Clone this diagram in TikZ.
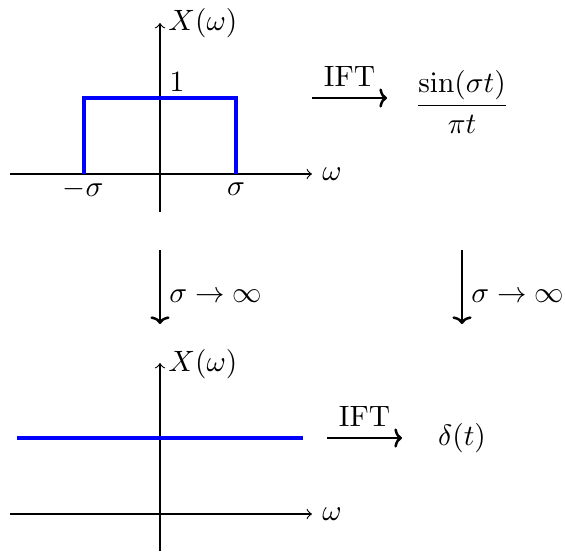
\documentclass[tikz,border=0pt]{standalone}
\usepackage{amsmath}
\usetikzlibrary{arrows.meta}
\begin{document}
\begin{tikzpicture}[x=0.34pt,y=-0.34pt,
  axis/.style={-to},
  sig/.style={blue,line width=1.25pt},
  maparrow/.style={-{Computer Modern Rightarrow[width=6.5pt,length=2.6pt]},line width=0.85pt},
  lbl/.style={inner sep=0pt}]
\useasboundingbox (0,0) rectangle (565,551);
% ---- top plot ----
\coordinate (tyb) at (160,212);
\coordinate (tyt) at (160,23);
\coordinate (txl) at (10,174);
\coordinate (txr) at (312,174);
\draw[axis] (tyb) -- (tyt);
\draw[axis] (txl) -- (txr);
\node[anchor=west] (tX) at (158,23) {$X(\omega)$};
\node[anchor=west] (tw) at (txr) {$\omega$};
\coordinate (r1) at (84,174);
\coordinate (r2) at (84,98);
\coordinate (r3) at (236,98);
\coordinate (r4) at (236,174);
\draw[sig] (r1) -- (r2) -- (r3) -- (r4);
\node (one) at (177,82) {$1$};
\node (ms) at (83,189) {$-\sigma$};
\node (ps) at (236,189) {$\sigma$};
% top IFT
\coordinate (ta1) at (312,98);
\coordinate (ta2) at (387,98);
\draw[maparrow] (ta1) -- node[above] (tift) {IFT} (ta2);
\node (sinc) at (462,102) {$\dfrac{\sin(\sigma t)}{\pi t}$};
% ---- down arrows ----
\coordinate (d1a) at (160,250);
\coordinate (d1b) at (160,324);
\draw[maparrow] (d1a) -- (d1b);
\node[anchor=west] (l1) at (159,296) {$\sigma\to\infty$};
\coordinate (d2a) at (462,250);
\coordinate (d2b) at (462,324);
\draw[maparrow] (d2a) -- (d2b);
\node[anchor=west] (l2) at (461,296) {$\sigma\to\infty$};
% ---- bottom plot ----
\coordinate (byb) at (160,551);
\coordinate (byt) at (160,363);
\coordinate (bxl) at (10,514);
\coordinate (bxr) at (312,514);
\draw[axis] (byb) -- (byt);
\draw[axis] (bxl) -- (bxr);
\node[anchor=west] (bX) at (158,364) {$X(\omega)$};
\node[anchor=west] (bw) at (bxr) {$\omega$};
\coordinate (c1) at (17,438);
\coordinate (c2) at (303,438);
\draw[sig] (c1) -- (c2);
\coordinate (ba1) at (327,438);
\coordinate (ba2) at (402,438);
\draw[maparrow] (ba1) -- node[above] (bift) {IFT} (ba2);
\node (delta) at (462,438) {$\delta(t)$};
\end{tikzpicture}
\end{document}
